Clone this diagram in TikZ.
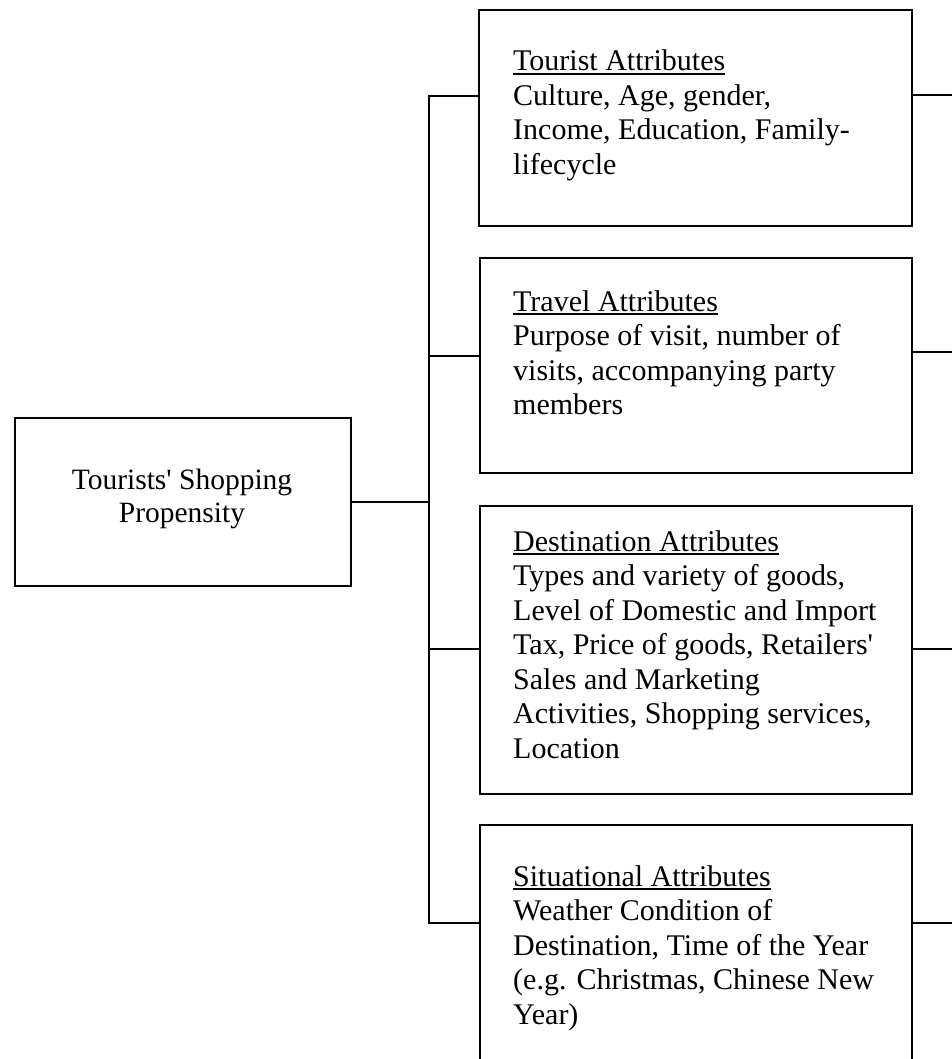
\documentclass[tikz,border=0pt]{standalone}
\usepackage{fontspec}
\setmainfont{Liberation Serif}
\newcommand\ulin[1]{\leavevmode\setbox0\hbox{#1}\rlap{\rule[-3.8pt]{\wd0}{1.5pt}}\box0}
\newcommand\attr[2]{\parbox[t]{420pt}{\fontsize{30}{34.5}\selectfont\raggedright\ulin{#1}\\#2}}
\begin{document}
\begin{tikzpicture}[x=1pt,y=-1pt,
  box/.style={draw, line width=2pt, inner sep=0pt, anchor=north west},
  txt/.style={anchor=base west, inner sep=0pt},
  link/.style={draw, line width=2pt}]
\useasboundingbox (0,0) rectangle (952,1059);
% boxes
\node[box, minimum width=336pt, minimum height=168pt] (main) at (14,417) {};
\node[box, minimum width=433pt, minimum height=216pt] (tour) at (478,9) {};
\node[box, minimum width=432pt, minimum height=215pt] (trav) at (479,257) {};
\node[box, minimum width=432pt, minimum height=288pt] (dest) at (479,505) {};
\node[box, minimum width=432pt, minimum height=250pt] (sit) at (479,824) {};
% texts
\node[anchor=base, inner sep=0pt] (maintxt) at (182,489)
  {\parbox[t]{320pt}{\centering\fontsize{29.5}{33}\selectfont Tourists\textquotesingle{} Shopping\\Propensity}};
\node[txt] (tourtxt) at (513,71) {\attr{Tourist Attributes}{Culture, Age, gender,\\Income, Education, Family-\\lifecycle}};
\node[txt] (travtxt) at (513,311) {\attr{Travel Attributes}{Purpose of visit, number of\\visits, accompanying party\\members}};
\node[txt] (desttxt) at (513,551) {\attr{Destination Attributes}{Types and variety of goods,\\Level of Domestic and Import\\Tax, Price of goods, Retailers\textquotesingle\\Sales and Marketing\\Activities, Shopping services,\\Location}};
\node[txt] (sittxt) at (513,886) {\attr{Situational Attributes}{Weather Condition of\\Destination, Time of the Year\\(e.g. Christmas, Chinese New\\Year)}};
% spine
\coordinate (sT) at (429,96);
\coordinate (sV) at (429,356);
\coordinate (sD) at (429,649);
\coordinate (sS) at (429,923);
\draw[link] (sT -| tour.west) -- (sT) -- (sS) -- (sS -| sit.west);
\draw[link] (main.east) -- (main.east -| sT);
\draw[link] (sV) -- (sV -| trav.west);
\draw[link] (sD) -- (sD -| dest.west);
% right-hand connectors
\coordinate (rT) at (952,95);
\coordinate (rV) at (952,352);
\coordinate (rD) at (952,649);
\coordinate (rS) at (952,923);
\draw[link] (rT -| tour.east) -- (rT);
\draw[link] (rV -| trav.east) -- (rV);
\draw[link] (rD -| dest.east) -- (rD);
\draw[link] (rS -| sit.east) -- (rS);
\end{tikzpicture}
\end{document}
